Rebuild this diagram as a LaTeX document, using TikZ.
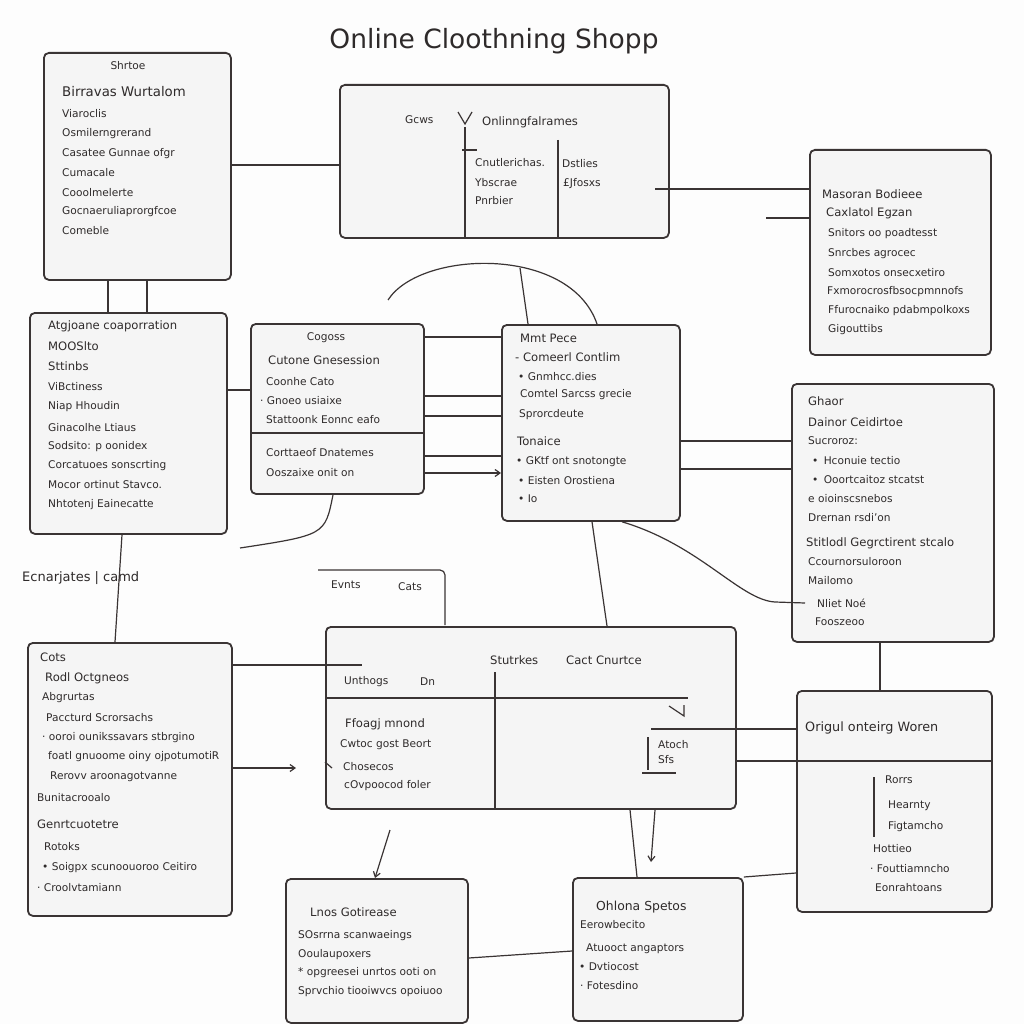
\documentclass[tikz,border=0pt]{standalone}
\usepackage{fontspec}
\setmainfont{DejaVu Sans}
\usetikzlibrary{arrows.meta}
\definecolor{ink}{HTML}{3A3434}
\definecolor{txt}{HTML}{2E2A2A}
\definecolor{boxfill}{HTML}{F5F5F5}
\definecolor{bg}{HTML}{FDFDFD}
\begin{document}
\begin{tikzpicture}[x=1pt,y=-1pt,
  box/.style={draw=ink,line width=1.8pt,rounded corners=5pt,fill=boxfill,inner sep=0pt,anchor=north west},
  t/.style={anchor=west,inner sep=0pt,text=txt,font=\fontsize{10.6}{12}\selectfont},
  th/.style={anchor=west,inner sep=0pt,text=txt,font=\fontsize{11.6}{13}\selectfont},
  tbig/.style={anchor=west,inner sep=0pt,text=txt,font=\fontsize{13.3}{15}\selectfont},
  ln/.style={draw=ink,line width=1.2pt},
  arr/.style={ln,-{Straight Barb[length=5pt,width=7pt]}}]
\useasboundingbox[fill=bg] (0,0) rectangle (1024,1024);

% title
\node[inner sep=0pt,text=txt,font=\fontsize{26.5}{30}\selectfont] (title) at (494,41) {Online Cloothning Shopp};

% boxes
\node[box,minimum width=187pt,minimum height=227pt] (A) at (43,52) {};
\node[box,minimum width=329pt,minimum height=153pt] (B) at (339,84) {};
\node[box,minimum width=181pt,minimum height=205pt] (C) at (809,149) {};
\node[box,minimum width=197pt,minimum height=221pt] (D) at (29,312) {};
\node[box,minimum width=173pt,minimum height=170pt] (E) at (250,323) {};
\node[box,minimum width=178pt,minimum height=196pt] (F) at (501,324) {};
\node[box,minimum width=202pt,minimum height=258pt] (G) at (791,383) {};
\node[box,minimum width=204pt,minimum height=273pt] (H) at (27,642) {};
\node[box,minimum width=410pt,minimum height=182pt] (I) at (325,626) {};
\node[box,minimum width=195pt,minimum height=221pt] (J) at (796,690) {};
\node[box,minimum width=182pt,minimum height=144pt] (K) at (285,878) {};
\node[box,minimum width=170pt,minimum height=143pt] (L) at (572,877) {};

% partial box top
\coordinate (pb1) at (318,570);
\coordinate (pb2) at (445,625);
\draw[ln,rounded corners=5pt] (pb1) -- (pb1 -| pb2) -- (pb2);
\node[t] (pbt1) at (331,585) {Evnts};
\node[t] (pbt2) at (398,587) {Cats};

% box A text
\node[t,anchor=center] (a0) at (128,66) {Shrtoe};
\node[tbig] (a1) at (62,92) {Birravas Wurtalom};
\node[t] (a2) at (62,114) {Viaroclis};
\node[t] (a3) at (62,134) {Osmilerngrerand};
\node[t] (a4) at (62,154) {Casatee Gunnae ofgr};
\node[t] (a5) at (62,173) {Cumacale};
\node[t] (a6) at (62,193) {Cooolmelerte};
\node[t] (a7) at (62,212) {Gocnaeruliaprorgfcoe};
\node[t] (a8) at (62,231) {Comeble};

% box B content
\node[t] (b1) at (405,120) {Gcws};
\coordinate (bv1) at (458,112); \coordinate (bv2) at (465,124); \coordinate (bv3) at (472,112);
\draw[ln] (bv1) -- (bv2) -- (bv3);
\node[th] (b2) at (482,122) {Onlinngfalrames};
\coordinate (bl1) at (465,127); \coordinate (bl2) at (465,237);
\draw[ln] (bl1) -- (bl2);
\coordinate (bt1) at (462,150); \coordinate (bt2) at (477,150);
\draw[ln] (bt1) -- (bt2);
\coordinate (bl3) at (558,140); \coordinate (bl4) at (558,237);
\draw[ln] (bl3) -- (bl4);
\node[t] (b3) at (475,163) {Cnutlerichas.};
\node[t] (b4) at (475,183) {Ybscrae};
\node[t] (b5) at (475,201) {Pnrbier};
\node[t] (b6) at (562,164) {Dstlies};
\node[t] (b7) at (563,184) {£Jfosxs};

% box C text
\node[th] (c1) at (822,194) {Masoran Bodieee};
\node[th] (c2) at (826,213) {Caxlatol Egzan};
\node[t] (c3) at (828,234) {Snitors oo poadtesst};
\node[t] (c4) at (828,254) {Snrcbes agrocec};
\node[t] (c5) at (828,273) {Somxotos onsecxetiro};
\node[t] (c6) at (827,292) {Fxmorocrosfbsocpmnnofs};
\node[t] (c7) at (828,311) {Ffurocnaiko pdabmpolkoxs};
\node[t] (c8) at (828,330) {Gigouttibs};

% box D text
\node[th] (d1) at (48,326) {Atgjoane coaporration};
\node[th] (d2) at (48,346) {MOOSlto};
\node[th] (d3) at (48,366) {Sttinbs};
\node[t] (d4) at (48,387) {ViBctiness};
\node[t] (d5) at (48,407) {Niap Hhoudin};
\node[t] (d6) at (48,428) {Ginacolhe Ltiaus};
\node[t] (d7) at (48,447) {Sodsito: p oonidex};
\node[t] (d8) at (48,466) {Corcatuoes sonscrting};
\node[t] (d9) at (48,485) {Mocor ortinut Stavco.};
\node[t] (d10) at (48,505) {Nhtotenj Eainecatte};

% box E text
\node[t,anchor=center] (e0) at (326,338) {Cogoss};
\node[th] (e1) at (268,360) {Cutone Gnesession};
\node[t] (e2) at (266,382) {Coonhe Cato};
\node[t] (e3) at (260,401) {· Gnoeo usiaixe};
\node[t] (e4) at (266,420) {Stattoonk Eonnc eafo};
\coordinate (ed1) at (250,433); \coordinate (ed2) at (423,433);
\draw[ln] (ed1) -- (ed2);
\node[t] (e5) at (266,453) {Corttaeof Dnatemes};
\node[t] (e6) at (266,473) {Ooszaixe onit on};

% box F text
\node[th] (f1) at (520,338) {Mmt Pece};
\node[th] (f2) at (515,357) {- Comeerl Contlim};
\node[t] (f3) at (518,377) {• Gnmhcc.dies};
\node[t] (f4) at (520,395) {Comtel Sarcss grecie};
\node[t] (f5) at (519,415) {Sprorcdeute};
\node[th] (f6) at (517,441) {Tonaice};
\node[t] (f7) at (516,462) {• GKtf ont snotongte};
\node[t] (f8) at (518,481) {• Eisten Orostiena};
\node[t] (f9) at (518,499) {• Io};

% box G text
\node[th] (g1) at (808,401) {Ghaor};
\node[th] (g2) at (808,422) {Dainor Ceidirtoe};
\node[t] (g3) at (808,441) {Sucroroz:};
\node[t] (g4) at (812,461) {•\enspace Hconuie tectio};
\node[t] (g5) at (812,480) {•\enspace Ooortcaitoz stcatst};
\node[t] (g6) at (808,499) {e oioinscsnebos};
\node[t] (g7) at (808,518) {Drernan rsdi'on};
\node[th] (g8) at (806,543) {Stitlodl Gegrctirent stcalo};
\node[t] (g9) at (808,562) {Ccournorsuloroon};
\node[t] (g10) at (808,581) {Mailomo};
\node[t] (g11) at (817,603) {Nliet Noé};
\node[t] (g12) at (815,622) {Fooszeoo};

% label
\node[th,font=\fontsize{13}{15}\selectfont] (lab) at (22,578) {Ecnarjates | camd};

% box H text
\node[th] (h1) at (40,657) {Cots};
\node[th] (h2) at (45,678) {Rodl Octgneos};
\node[t] (h3) at (42,698) {Abgrurtas};
\node[t] (h4) at (46,718) {Paccturd Scrorsachs};
\node[t] (h5) at (42,738) {· ooroi ounikssavars stbrgino};
\node[t] (h6) at (48,757) {foatl gnuoome oiny ojpotumotiR};
\node[t] (h7) at (50,777) {Rerovv aroonagotvanne};
\node[t] (h8) at (37,798) {Bunitacrooalo};
\node[th] (h9) at (37,824) {Genrtcuotetre};
\node[t] (h10) at (44,847) {Rotoks};
\node[t] (h11) at (42,868) {• Soigpx scunoouoroo Ceitiro};
\node[t] (h12) at (37,888) {· Croolvtamiann};

% box I content
\node[th] (i1) at (490,660) {Stutrkes};
\node[th] (i2) at (566,660) {Cact Cnurtce};
\coordinate (iv1) at (495,672); \coordinate (iv2) at (495,808);
\draw[ln] (iv1) -- (iv2);
\coordinate (ih1) at (325,698); \coordinate (ih2) at (688,698);
\draw[ln] (ih1) -- (ih2);
\node[t] (i3) at (344,682) {Unthogs};
\node[t] (i4) at (420,682) {Dn};
\node[th] (i5) at (345,724) {Ffoagj mnond};
\node[t] (i6) at (340,745) {Cwtoc gost Beort};
\node[t] (i7) at (343,767) {Chosecos};
\node[t] (i8) at (344,786) {cOvpoocod foler};
\coordinate (iarr1) at (669,706); \coordinate (iarr2) at (684,716); \coordinate (iarr3) at (684,705);
\draw[ln] (iarr1) -- (iarr2) -- (iarr3);
\coordinate (iv3) at (648,737); \coordinate (iv4) at (648,770);
\draw[ln] (iv3) -- (iv4);
\coordinate (ih3) at (642,773); \coordinate (ih4) at (676,773);
\draw[ln] (ih3) -- (ih4);
\node[t] (i9) at (658,745) {Atoch};
\node[t] (i10) at (658,760) {Sfs};

% box J content
\node[th,font=\fontsize{12.8}{15}\selectfont] (j1) at (805,728) {Origul onteirg Woren};
\coordinate (jd1) at (735,761); \coordinate (jd2) at (991,761);
\draw[ln] (jd1) -- (jd2);
\coordinate (jv1) at (874,777); \coordinate (jv2) at (874,837);
\draw[ln] (jv1) -- (jv2);
\node[t] (j2) at (885,780) {Rorrs};
\node[t] (j3) at (888,806) {Hearnty};
\node[t] (j4) at (888,827) {Figtamcho};
\node[t] (j5) at (873,849) {Hottieo};
\node[t] (j6) at (870,869) {· Fouttiamncho};
\node[t] (j7) at (875,888) {Eonrahtoans};

% box K text
\node[th] (k1) at (310,912) {Lnos Gotirease};
\node[t] (k2) at (298,936) {SOsrrna scanwaeings};
\node[t] (k3) at (298,955) {Ooulaupoxers};
\node[t] (k4) at (298,973) {* opgreesei unrtos ooti on};
\node[t] (k5) at (298,992) {Sprvchio tiooiwvcs opoiuoo};

% box L text
\node[th,font=\fontsize{12.4}{14}\selectfont] (l1) at (596,907) {Ohlona Spetos};
\node[t] (l2) at (580,925) {Eerowbecito};
\node[t] (l3) at (586,949) {Atuooct angaptors};
\node[t] (l4) at (579,967) {• Dvtiocost};
\node[t] (l5) at (580,986) {· Fotesdino};

% connectors
\draw[ln] (A.east |- 0,165) -- (B.west |- 0,165);
\draw[ln] (655,189) -- (C.west |- 0,189);
\draw[ln] (766,218) -- (C.west |- 0,218);
\draw[ln] (108,0 |- A.south) -- (108,0 |- D.north);
\draw[ln] (147,0 |- A.south) -- (147,0 |- D.north);
\draw[ln] (388,300) .. controls (420,250) and (570,245) .. (597,0 |- F.north);
\draw[ln] (520,268) -- (528,0 |- F.north);
\draw[ln] (D.east |- 0,390) -- (E.west |- 0,390);
\draw[ln] (E.east |- 0,337) -- (F.west |- 0,337);
\draw[ln] (E.east |- 0,396) -- (F.west |- 0,396);
\draw[ln] (E.east |- 0,416) -- (F.west |- 0,416);
\draw[ln] (E.east |- 0,456) -- (F.west |- 0,456);
\draw[arr] (E.east |- 0,473) -- (F.west |- 0,473);
\draw[ln] (F.east |- 0,441) -- (G.west |- 0,441);
\draw[ln] (F.east |- 0,469) -- (G.west |- 0,469);
\draw[ln] (333,0 |- E.south) .. controls (325,535) .. (240,548);
\draw[ln] (122,0 |- D.south) -- (115,0 |- H.north);
\draw[ln] (592,0 |- F.south) -- (607,0 |- I.north);
\draw[ln] (622,0 |- F.south) .. controls (700,545) and (740,600) .. (775,602) -- (805,603);
\draw[ln] (880,0 |- G.south) -- (880,0 |- J.north);
\draw[ln] (H.east |- 0,665) -- (362,665);
\draw[arr] (H.east |- 0,768) -- (296,768);
\draw[ln] (325,762) -- (332,768);
\draw[ln] (651,729) -- (J.west |- 0,729);
\draw[arr] (390,830) -- (375,0 |- K.north);
\draw[ln] (630,0 |- I.south) -- (637,0 |- L.north);
\draw[arr] (655,810) -- (651,862);
\draw[ln] (K.east |- 0,958) -- (L.west |- 0,951);
\draw[ln] (L.east |- 0,877) -- (J.west |- 0,873);
\end{tikzpicture}
\end{document}
